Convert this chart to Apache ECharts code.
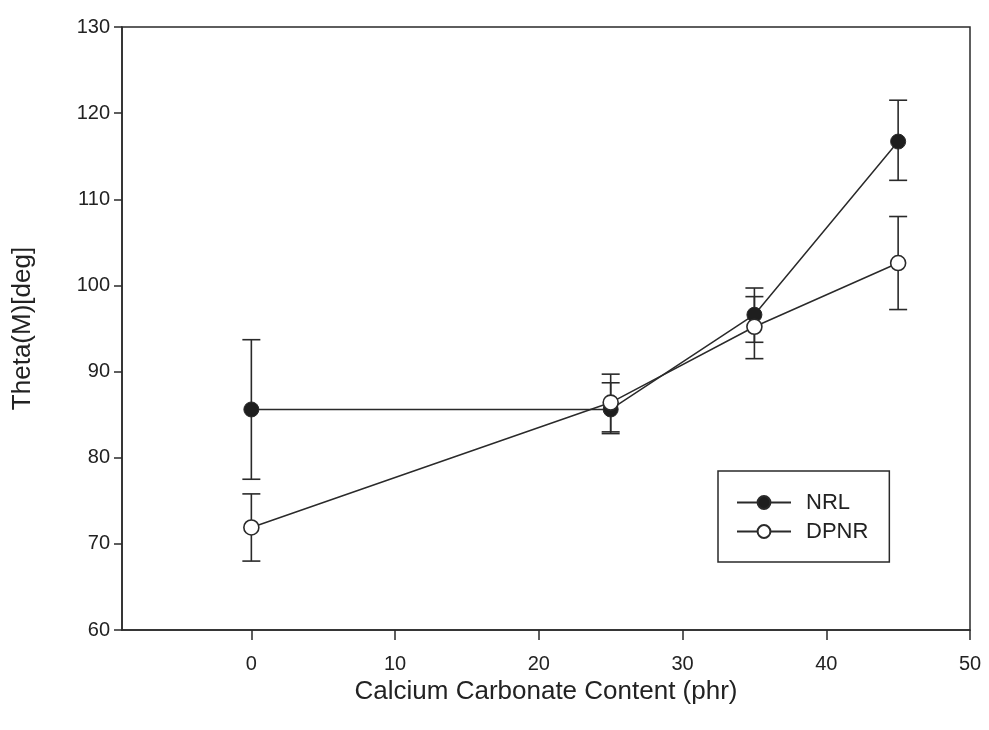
<!DOCTYPE html>
<html>
<head>
<meta charset="utf-8">
<script src="https://cdn.jsdelivr.net/npm/echarts@6/dist/echarts.min.js"></script>
<style>
html,body{margin:0;padding:0;background:#fff;}
#chart{width:989px;height:730px;}
</style>
</head>
<body>
<div id="chart"></div>
<script>
// Data
const xValues = [0, 25, 35, 45];
const nrlMean = [85.6, 85.6, 96.6, 116.7];
const nrlLow  = [77.5, 82.8, 93.4, 112.2];
const nrlHigh = [93.7, 88.7, 99.7, 121.5];
const dpnrMean = [71.9, 86.4, 95.2, 102.6];
const dpnrLow  = [68.0, 83.0, 91.5, 97.2];
const dpnrHigh = [75.8, 89.7, 98.7, 108.0];
const xTicks = [0, 10, 20, 30, 40, 50];
const yTicks = [60, 70, 80, 90, 100, 110, 120, 130];

const ink = '#2a2a2a';
const FONT = 'Liberation Sans, Arial, sans-serif';

function pairs(xs, ys){ return xs.map((x,i)=>[x, ys[i]]); }
function errData(xs, lo, hi){ return xs.map((x,i)=>[x, lo[i], hi[i]]); }

function errRender(params, api){
  const x = api.value(0);
  const lo = api.coord([x, api.value(1)]);
  const hi = api.coord([x, api.value(2)]);
  const cap = 9;
  const style = {stroke: ink, lineWidth: 1.6};
  return {
    type: 'group',
    children: [
      {type:'line', shape:{x1:lo[0], y1:lo[1], x2:hi[0], y2:hi[1]}, style: style},
      {type:'line', shape:{x1:lo[0]-cap, y1:lo[1], x2:lo[0]+cap, y2:lo[1]}, style: style},
      {type:'line', shape:{x1:hi[0]-cap, y1:hi[1], x2:hi[0]+cap, y2:hi[1]}, style: style}
    ]
  };
}

const chart = echarts.init(document.getElementById('chart'), null, {renderer:'canvas'});
chart.setOption({
  backgroundColor: '#fff',
  animation: false,
  textStyle: {fontFamily: FONT},
  grid: {left: 122, right: 19, top: 27, bottom: 100, show: true, borderColor: ink, borderWidth: 1.5, backgroundColor: 'transparent'},
  legend: {
    data: ['NRL', 'DPNR'],
    orient: 'vertical',
    left: 718, top: 471,
    padding: [20, 21, 19, 18],
    itemGap: 6,
    itemWidth: 54, itemHeight: 16,
    borderColor: ink, borderWidth: 1.5,
    backgroundColor: '#fff',
    textStyle: {fontFamily: FONT, fontSize: 22, color: '#222', padding: [0,0,0,10], lineHeight: 23}
  },
  xAxis: {
    type: 'value',
    min: -9, max: 50,
    splitLine: {show: false},
    axisLine: {show: true, onZero: false, lineStyle: {color: ink, width: 1.5}},
    axisTick: {show: true, inside: false, length: 10, customValues: xTicks, lineStyle: {color: ink, width: 1.5}},
    axisLabel: {customValues: xTicks, margin: 24, fontSize: 20, color: '#222', fontFamily: FONT},
    name: 'Calcium Carbonate Content (phr)',
    nameLocation: 'middle',
    nameGap: 47,
    nameTextStyle: {fontSize: 26, color: '#222', fontFamily: FONT}
  },
  yAxis: {
    type: 'value',
    min: 60, max: 130, interval: 10,
    splitLine: {show: false},
    axisLine: {show: true, onZero: false, lineStyle: {color: ink, width: 1.5}},
    axisTick: {show: true, inside: false, length: 8, customValues: yTicks, lineStyle: {color: ink, width: 1.5}},
    axisLabel: {customValues: yTicks, margin: 12, fontSize: 20, color: '#222', fontFamily: FONT},
    name: 'Theta(M)[deg]',
    nameLocation: 'middle',
    nameGap: 86,
    nameTextStyle: {fontSize: 26, color: '#222', fontFamily: FONT}
  },
  series: [
    {
      name: 'NRL err', type: 'custom', renderItem: errRender,
      data: errData(xValues, nrlLow, nrlHigh), encode: {x: 0, y: [1, 2]}, z: 1, silent: true
    },
    {
      name: 'DPNR err', type: 'custom', renderItem: errRender,
      data: errData(xValues, dpnrLow, dpnrHigh), encode: {x: 0, y: [1, 2]}, z: 1, silent: true
    },
    {
      name: 'NRL', type: 'line', data: pairs(xValues, nrlMean),
      symbol: 'circle', symbolSize: 15, z: 3,
      lineStyle: {color: ink, width: 1.5},
      itemStyle: {color: '#1e1e1e', borderColor: ink, borderWidth: 1}
    },
    {
      name: 'DPNR', type: 'line', data: pairs(xValues, dpnrMean),
      symbol: 'circle', symbolSize: 15, z: 4,
      lineStyle: {color: ink, width: 1.5},
      itemStyle: {color: '#ffffff', borderColor: ink, borderWidth: 1.6}
    }
  ]
});
</script>
</body>
</html>
